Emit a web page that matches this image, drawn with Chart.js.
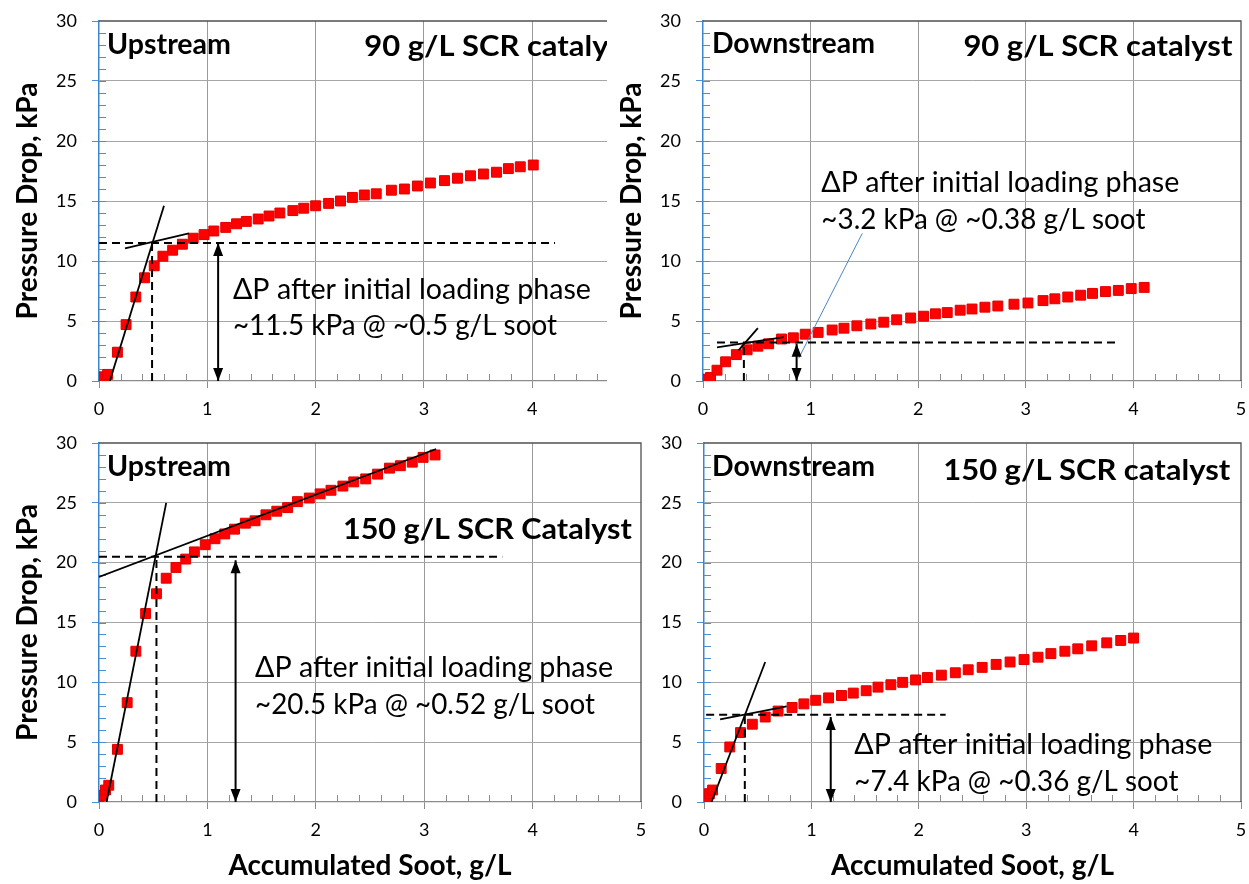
<!DOCTYPE html>
<html>
<head>
<meta charset="utf-8">
<script src="https://cdn.jsdelivr.net/npm/chart.js@4.4.0/dist/chart.umd.min.js"></script>
<style>
    body { margin: 0; background: #fff; width: 1249px; height: 884px; overflow: hidden; position: relative; }
    canvas { position: absolute; }
    #tr { background: #fff; z-index: 2; }
</style>
</head>
<body>
<canvas id="tl" width="680" height="425" style="left:0;top:0"></canvas>
<canvas id="tr" width="642" height="425" style="left:607px;top:0"></canvas>
<canvas id="bl" width="680" height="459" style="left:0;top:425px"></canvas>
<canvas id="br" width="604" height="459" style="left:645px;top:425px"></canvas>
<script>
// ======== DADOS ========
const sootTicks = [0, 1, 2, 3, 4, 5];
const dpTicks = [0, 5, 10, 15, 20, 25, 30];

// Upstream, 90 g/L
const upSoot90 = [0, 0.02, 0.04, 0.08, 0.17, 0.25, 0.34, 0.42, 0.51, 0.59, 0.68, 0.77, 0.87, 0.97, 1.06, 1.17, 1.27, 1.36, 1.47, 1.57,
    1.67, 1.79, 1.89, 2.0, 2.12, 2.23, 2.34, 2.45, 2.56, 2.70, 2.82, 2.94, 3.06, 3.19, 3.31, 3.43, 3.55, 3.67, 3.78, 3.89, 4.01];
const upDp90 = [0.1, 0.2, 0.35, 0.55, 2.4, 4.7, 7.0, 8.6, 9.6, 10.4, 10.9, 11.4, 11.9, 12.2, 12.5, 12.8, 13.1, 13.3, 13.5, 13.75,
    14.0, 14.2, 14.4, 14.6, 14.8, 15.0, 15.3, 15.5, 15.6, 15.9, 16.0, 16.25, 16.5, 16.7, 16.9, 17.1, 17.25, 17.4, 17.7, 17.85, 18.0];
const upSteep90 = [[0.10, 0], [0.60, 14.6]];
const upFlat90 = [[0.24, 11.05], [0.83, 12.3]];
const upHDash90 = [[0, 11.5], [4.21, 11.5]];
const upVDash90 = [[0.49, 0], [0.49, 11.5]];
const upArrow90 = [[1.10, 0], [1.10, 11.5]];

// Downstream, 90 g/L
const downSoot90 = [0, 0.03, 0.07, 0.13, 0.21, 0.31, 0.41, 0.51, 0.61, 0.73, 0.84, 0.95, 1.07, 1.20, 1.31, 1.43, 1.56, 1.68, 1.80, 1.93,
    2.05, 2.16, 2.27, 2.39, 2.50, 2.62, 2.74, 2.89, 3.02, 3.16, 3.27, 3.39, 3.51, 3.62, 3.74, 3.86, 3.98, 4.10];
const downDp90 = [0.1, 0.15, 0.3, 0.9, 1.6, 2.2, 2.6, 2.9, 3.1, 3.5, 3.6, 3.9, 4.05, 4.25, 4.4, 4.6, 4.75, 4.9, 5.1, 5.25,
    5.4, 5.6, 5.7, 5.9, 6.0, 6.15, 6.25, 6.4, 6.5, 6.7, 6.85, 7.0, 7.15, 7.3, 7.45, 7.55, 7.7, 7.8];
const downSteep90 = [[0.33, 2.55], [0.51, 4.4]];
const downFlat90 = [[0.13, 2.8], [0.75, 3.65]];
const downHDash90 = [[0.13, 3.2], [3.83, 3.2]];
const downVDash90 = [[0.38, 0], [0.38, 3.2]];
const downArrow90 = [[0.87, 0], [0.87, 3.1]];
const downCallout90 = [[1.48, 12.3], [0.89, 1.9]];

// Upstream, 150 g/L
const upSoot150 = [0, 0.03, 0.06, 0.09, 0.17, 0.26, 0.34, 0.43, 0.53, 0.62, 0.71, 0.80, 0.88, 0.98, 1.07, 1.16, 1.25, 1.35, 1.44, 1.54,
    1.64, 1.74, 1.83, 1.94, 2.04, 2.14, 2.25, 2.35, 2.46, 2.57, 2.68, 2.78, 2.89, 2.99, 3.10];
const upDp150 = [0.3, 0.55, 1.0, 1.4, 4.4, 8.3, 12.6, 15.75, 17.4, 18.7, 19.6, 20.3, 20.9, 21.5, 22.0, 22.4, 22.8, 23.3, 23.5, 24.0,
    24.3, 24.6, 25.1, 25.4, 25.75, 26.05, 26.4, 26.75, 27.0, 27.4, 27.9, 28.1, 28.4, 28.8, 29.0];
const upSteep150 = [[0.07, 0], [0.62, 25.0]];
const upFlat150 = [[0, 18.8], [3.11, 29.5]];
const upHDash150 = [[0, 20.5], [3.72, 20.5]];
const upVDash150 = [[0.53, 0], [0.53, 20.5]];
const upArrow150 = [[1.26, 0], [1.26, 20.2]];

// Downstream, 150 g/L
const downSoot150 = [0, 0.02, 0.05, 0.08, 0.16, 0.24, 0.34, 0.45, 0.57, 0.69, 0.82, 0.93, 1.04, 1.16, 1.28, 1.39, 1.51, 1.62, 1.74, 1.85,
    1.97, 2.08, 2.21, 2.34, 2.46, 2.59, 2.72, 2.85, 2.98, 3.11, 3.23, 3.36, 3.48, 3.61, 3.75, 3.88, 4.0];
const downDp150 = [0.2, 0.4, 0.7, 1.0, 2.8, 4.6, 5.8, 6.5, 7.1, 7.6, 7.9, 8.2, 8.5, 8.7, 8.9, 9.1, 9.3, 9.6, 9.8, 10.0,
    10.2, 10.4, 10.6, 10.8, 11.05, 11.25, 11.5, 11.7, 11.9, 12.1, 12.4, 12.6, 12.8, 13.05, 13.3, 13.5, 13.7];
const downSteep150 = [[0.07, 0], [0.57, 11.7]];
const downFlat150 = [[0.15, 6.9], [0.77, 8.0]];
const downHDash150 = [[0.02, 7.3], [2.25, 7.3]];
const downVDash150 = [[0.38, 0], [0.38, 7.3]];
const downArrow150 = [[1.18, 0], [1.18, 7.1]];

// ======== PAINÉIS ========
const FONT = "Lato";
const painéis = [
    {
        id: "tl", soot: upSoot90, dp: upDp90, steep: upSteep90, flat: upFlat90, hDash: upHDash90, vDash: upVDash90, arrow: upArrow90,
        yWidth: 99, xHeight: 44, pad: { top: 21, right: 39.5, left: 0, bottom: 0 }, yTitlePad: 11, xTitle: false,
        textos: [
            { t: "Upstream", x: 0.074, y: 28.0, bold: true, size: 28, w: 124 },
            { t: "90 g/L SCR catalyst", x: 2.45, y: 27.8, bold: true, size: 28, w: 269 },
            { t: "\u0394P after initial loading phase", x: 1.237, y: 7.6, size: 29, w: 358 },
            { t: "~11.5 kPa @ ~0.5 g/L soot", x: 1.237, y: 4.6, size: 29, w: 324 }
        ]
    },
    {
        id: "tr", soot: downSoot90, dp: downDp90, steep: downSteep90, flat: downFlat90, hDash: downHDash90, vDash: downVDash90,
        arrow: downArrow90, callout: downCallout90,
        yWidth: 96, xHeight: 44, pad: { top: 21, right: 4, left: 0, bottom: 0 }, yTitlePad: 8, xTitle: false,
        textos: [
            { t: "Downstream", x: 0.083, y: 28.1, bold: true, size: 28, w: 163 },
            { t: "90 g/L SCR catalyst", x: 4.92, y: 27.8, bold: true, size: 28, w: 269, align: "right" },
            { t: "\u0394P after initial loading phase", x: 1.10, y: 16.5, size: 29, w: 358 },
            { t: "~3.2 kPa @ ~0.38 g/L soot", x: 1.10, y: 13.45, size: 29, w: 324 }
        ]
    },
    {
        id: "bl", soot: upSoot150, dp: upDp150, steep: upSteep150, flat: upFlat150, hDash: upHDash150, vDash: upVDash150, arrow: upArrow150,
        yWidth: 99, xHeight: 82, pad: { top: 18, right: 39, left: 0, bottom: 0 }, yTitlePad: 11, xTitle: true,
        textos: [
            { t: "Upstream", x: 0.074, y: 28.0, bold: true, size: 28, w: 124 },
            { t: "150 g/L SCR Catalyst", x: 2.25, y: 22.7, bold: true, size: 28, w: 289 },
            { t: "\u0394P after initial loading phase", x: 1.44, y: 11.2, size: 29, w: 358 },
            { t: "~20.5 kPa @ ~0.52 g/L soot", x: 1.44, y: 8.1, size: 29, w: 340 }
        ]
    },
    {
        id: "br", soot: downSoot150, dp: downDp150, steep: downSteep150, flat: downFlat150, hDash: downHDash150, vDash: downVDash150,
        arrow: downArrow150,
        yWidth: 59, xHeight: 82, pad: { top: 18, right: 4, left: 0, bottom: 0 }, yTitle: false, xTitle: true,
        textos: [
            { t: "Downstream", x: 0.074, y: 28.0, bold: true, size: 28, w: 163 },
            { t: "150 g/L SCR catalyst", x: 4.90, y: 27.7, bold: true, size: 28, w: 287, align: "right" },
            { t: "\u0394P after initial loading phase", x: 1.40, y: 4.76, size: 29, w: 358 },
            { t: "~7.4 kPa @ ~0.36 g/L soot", x: 1.40, y: 1.67, size: 29, w: 324 }
        ]
    }
];

const pares = arr => arr.map(([x, y]) => ({ x, y }));

// escreve o texto esticando/comprimindo até a largura pedida
function textoLargura(ctx, t, px, py) {
    ctx.font = (t.bold ? "bold " : "") + t.size + "px " + FONT;
    const w0 = ctx.measureText(t.t).width;
    const k = t.w / w0;
    ctx.save();
    ctx.translate(px, py);
    ctx.scale(k, 1);
    ctx.textAlign = t.align || "left";
    ctx.textBaseline = "middle";
    ctx.fillText(t.t, 0, 0);
    ctx.restore();
}

// ======== PLUGIN: ticks menores, bordas, setas e textos ========
const extras = {
    id: "extras",
    beforeDatasetsDraw(chart) {
        const { ctx, chartArea: a, scales: { x, y } } = chart;
        ctx.save();
        // bordas superior e direita
        ctx.strokeStyle = "#505050";
        ctx.lineWidth = 1.3;
        ctx.beginPath();
        ctx.moveTo(a.left, y.getPixelForValue(30));
        ctx.lineTo(x.getPixelForValue(5), y.getPixelForValue(30));
        ctx.lineTo(x.getPixelForValue(5), y.getPixelForValue(0));
        ctx.stroke();
        // ticks menores do eixo y (para dentro)
        ctx.strokeStyle = "#4a8fd4";
        ctx.lineWidth = 1;
        ctx.beginPath();
        for (let v = 1; v < 30; v++) {
            const py = Math.round(y.getPixelForValue(v)) + 0.5;
            ctx.moveTo(a.left, py);
            ctx.lineTo(a.left + 7, py);
        }
        ctx.stroke();
        // ticks menores do eixo x (para cima)
        ctx.strokeStyle = "#8c8c8c";
        ctx.beginPath();
        for (let i = 1; i < 25; i++) {
            if (i % 5 === 0) continue;
            const px = Math.round(x.getPixelForValue(i * 0.2)) + 0.5;
            ctx.moveTo(px, a.bottom);
            ctx.lineTo(px, a.bottom - 7);
        }
        ctx.stroke();
        ctx.restore();
    },
    afterDatasetsDraw(chart, args, opts) {
        const { ctx, scales: { x, y } } = chart;
        const p = opts.painel;
        ctx.save();
        // pontas da seta dupla
        const ax = x.getPixelForValue(p.arrow[0][0]);
        const y0 = y.getPixelForValue(p.arrow[0][1]);
        const y1 = y.getPixelForValue(p.arrow[1][1]);
        ctx.fillStyle = "#000";
        ctx.beginPath();
        ctx.moveTo(ax, y1); ctx.lineTo(ax - 5, y1 + 13); ctx.lineTo(ax + 5, y1 + 13); ctx.closePath();
        ctx.moveTo(ax, y0); ctx.lineTo(ax - 5, y0 - 13); ctx.lineTo(ax + 5, y0 - 13); ctx.closePath();
        ctx.fill();
        // textos
        p.textos.forEach(t => textoLargura(ctx, t, x.getPixelForValue(t.x), y.getPixelForValue(t.y)));
        ctx.restore();
    }
};

// ======== GERA GRÁFICOS ========
function linha(dados, extra) {
    return Object.assign({
        data: pares(dados), showLine: true, borderColor: "#000", borderWidth: 1.8,
        pointRadius: 0, fill: false
    }, extra || {});
}

function criarPainel(p) {
    const datasets = [
        linha(p.steep),
        linha(p.flat),
        linha(p.hDash, { borderDash: [8, 5], borderWidth: 2 }),
        linha(p.vDash, { borderDash: [8, 5], borderWidth: 2 }),
        linha(p.arrow, { borderWidth: 2 })
    ];
    if (p.callout) datasets.push(linha(p.callout, { borderColor: "#4a86c5", borderWidth: 1 }));
    datasets.push({
        data: p.soot.map((v, i) => ({ x: v, y: p.dp[i] })),
        showLine: false, pointStyle: "rect", pointRadius: 7,
        backgroundColor: "#ff0000", borderColor: "#e00000", borderWidth: 1
    });

    new Chart(document.getElementById(p.id), {
        type: "scatter",
        data: { datasets },
        plugins: [extras],
        options: {
            responsive: false,
            animation: false,
            devicePixelRatio: 1,
            layout: { padding: p.pad },
            plugins: { legend: { display: false }, tooltip: { enabled: false }, extras: { painel: p } },
            scales: {
                x: {
                    type: "linear", min: sootTicks[0], max: sootTicks[sootTicks.length - 1],
                    afterBuildTicks: s => { s.ticks = sootTicks.map(v => ({ value: v })); },
                    ticks: { color: "#000", font: { family: FONT, size: 18 }, padding: 10, maxRotation: 0 },
                    grid: {
                        color: c => (c.tick && (c.tick.value === 0 || c.tick.value === 5)) ? "rgba(0,0,0,0)" : "#9a9a9a",
                        tickColor: "#8c8c8c", tickLength: 7
                    },
                    border: { color: "#8c8c8c", width: 1.3 },
                    title: {
                        display: p.xTitle, text: "Accumulated Soot, g/L", color: "#000",
                        font: { family: FONT, size: 28, weight: "bold" }, padding: { top: 0, bottom: 1 }
                    },
                    afterFit: s => { s.height = p.xHeight; s.paddingLeft = 0; s.paddingRight = 0; }
                },
                y: {
                    type: "linear", min: dpTicks[0], max: dpTicks[dpTicks.length - 1],
                    afterBuildTicks: s => { s.ticks = dpTicks.map(v => ({ value: v })); },
                    ticks: { color: "#000", font: { family: FONT, size: 18 }, padding: 15 },
                    grid: {
                        color: c => (c.tick && (c.tick.value === 0 || c.tick.value === 30)) ? "rgba(0,0,0,0)" : "#a6a6a6",
                        tickColor: "#4a8fd4", tickLength: 7
                    },
                    border: { color: "#3b86cf", width: 1.5 },
                    title: {
                        display: p.yTitle !== false, text: "Pressure Drop, kPa", color: "#000",
                        font: { family: FONT, size: 28, weight: "bold" }, padding: { top: p.yTitlePad || 0, bottom: 0 }
                    },
                    afterFit: s => { s.width = p.yWidth; s.paddingTop = 0; s.paddingBottom = 0; }
                }
            }
        }
    });
}

painéis.forEach(criarPainel);
</script>
</body>
</html>
